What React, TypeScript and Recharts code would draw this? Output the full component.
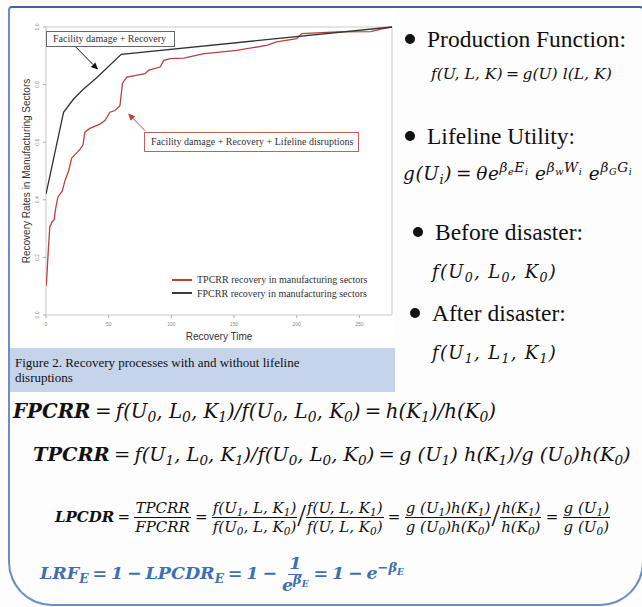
import React from 'react';
import {
  LineChart,
  Line,
  XAxis,
  YAxis,
  ReferenceArea,
  ReferenceLine,
  Legend,
} from 'recharts';

// FPCRR: facility damage + recovery (black)
const fpcrrTime = [0, 14, 22, 30, 40, 60, 276];
const fpcrrRate = [0.42, 0.704, 0.75, 0.785, 0.822, 0.905, 1.0];

// TPCRR: facility damage + recovery + lifeline disruptions (red)
const tpcrrTime = [
  0, 0.5, 1.5, 3, 5, 6.5, 7.5, 9.5, 12, 13, 15, 18, 20.5, 23, 27, 29.5, 31, 35,
  43, 47, 51, 55, 59, 61, 64.5, 79, 82, 91, 94, 99, 110, 125, 152, 176, 184,
  200, 204, 232, 259, 269, 276,
];
const tpcrrRate = [
  0.1, 0.12, 0.2, 0.305, 0.325, 0.33, 0.365, 0.41, 0.425, 0.43, 0.465, 0.5,
  0.545, 0.556, 0.575, 0.59, 0.635, 0.648, 0.663, 0.675, 0.704, 0.71, 0.727,
  0.805, 0.826, 0.838, 0.85, 0.861, 0.884, 0.89, 0.892, 0.907, 0.919, 0.936,
  0.948, 0.96, 0.977, 0.983, 0.984, 0.994, 1.0,
];

const xTicks = [0, 50, 100, 150, 200, 250];
const yTicks = [0, 0.2, 0.4, 0.6, 0.8, 1.0];

const legendItems = [
  { label: 'TPCRR recovery in manufacturing sectors', color: '#b8433d' },
  { label: 'FPCRR recovery in manufacturing sectors', color: '#3a3a3a' },
];

const fpcrrData = fpcrrTime.map((t, i) => ({ t, rate: fpcrrRate[i] }));
const tpcrrData = tpcrrTime.map((t, i) => ({ t, rate: tpcrrRate[i] }));

const SERIF = '"Liberation Serif", "Times New Roman", serif';
const MATH = '"DejaVu Serif", serif';
const SANS = '"Liberation Sans", Arial, sans-serif';

// ---------------------------------------------------------------------------
// Chart helpers
// ---------------------------------------------------------------------------

const YTick = (props: any) => {
  const { x, y, payload } = props;
  return (
    <text
      x={x}
      y={y}
      transform={`rotate(-90 ${x} ${y})`}
      textAnchor="middle"
      fontSize={5}
      fill="#888"
      fontFamily={SANS}
    >
      {Number(payload.value).toFixed(1)}
    </text>
  );
};

const Arrow = (color: string) => (props: any) => {
  const { x1, y1, x2, y2 } = props;
  const a = Math.atan2(y2 - y1, x2 - x1);
  const L = 7;
  const W = 3.2;
  const bx = x2 - L * Math.cos(a);
  const by = y2 - L * Math.sin(a);
  const p1 = `${bx - W * Math.sin(a)},${by + W * Math.cos(a)}`;
  const p2 = `${bx + W * Math.sin(a)},${by - W * Math.cos(a)}`;
  return (
    <g>
      <line x1={x1} y1={y1} x2={bx} y2={by} stroke={color} strokeWidth={1} />
      <polygon points={`${x2},${y2} ${p1} ${p2}`} fill={color} />
    </g>
  );
};

const LegendBox = () => (
  <div style={{ fontFamily: SERIF, fontSize: 10, color: '#333' }}>
    {legendItems.map(item => (
      <div
        key={item.label}
        style={{ display: 'flex', alignItems: 'center', height: 13.5 }}
      >
        <span
          style={{
            width: 20,
            height: 2,
            background: item.color,
            marginRight: 5,
          }}
        />
        {item.label}
      </div>
    ))}
  </div>
);

const RecoveryChart = () => (
  <LineChart
    width={385}
    height={335}
    data={fpcrrData}
    margin={{ top: 17, right: 3, bottom: 2, left: 26 }}
  >
    <ReferenceArea
      x1={0}
      x2={276}
      y1={0}
      y2={1}
      fill="none"
      stroke="#c9c9c9"
      strokeWidth={1}
    />
    <XAxis
      dataKey="t"
      type="number"
      domain={[0, 276]}
      ticks={xTicks}
      allowDataOverflow
      axisLine={false}
      tickSize={3}
      tickMargin={4}
      tickLine={{ stroke: '#aaa' }}
      tick={{ fontSize: 5, fill: '#888', fontFamily: SANS }}
      height={28}
      label={({ viewBox }: any) => (
        <text
          x={viewBox.x + viewBox.width / 2}
          y={viewBox.y + 25}
          textAnchor="middle"
          fontSize={10}
          fill="#333"
          fontFamily={SANS}
        >
          Recovery Time
        </text>
      )}
    />
    <YAxis
      type="number"
      domain={[0, 1]}
      ticks={yTicks}
      width={10}
      axisLine={false}
      tickSize={3}
      tickMargin={4}
      tickLine={{ stroke: '#aaa' }}
      tick={YTick}
      label={({ viewBox }: any) => {
        const lx = viewBox.x - 6;
        const ly = viewBox.y + viewBox.height / 2;
        return (
          <text
            x={lx}
            y={ly}
            transform={`rotate(-90 ${lx} ${ly})`}
            textAnchor="middle"
            fontSize={10}
            fill="#333"
            fontFamily={SANS}
          >
            Recovery Rates in Manufacturing Sectors
          </text>
        );
      }}
    />
    <Line
      data={tpcrrData}
      dataKey="rate"
      name="TPCRR"
      type="linear"
      stroke="#b8433d"
      strokeWidth={1.3}
      dot={false}
      isAnimationActive={false}
    />
    <Line
      data={fpcrrData}
      dataKey="rate"
      name="FPCRR"
      type="linear"
      stroke="#333"
      strokeWidth={1.3}
      dot={false}
      isAnimationActive={false}
    />
    <ReferenceLine
      segment={[
        { x: 23.2, y: 0.933 },
        { x: 41.5, y: 0.852 },
      ]}
      shape={Arrow('#111')}
    />
    <ReferenceLine
      segment={[
        { x: 79, y: 0.64 },
        { x: 65.5, y: 0.7 },
      ]}
      shape={Arrow('#b8433d')}
    />
    <Legend
      layout="vertical"
      align="center"
      verticalAlign="middle"
      content={LegendBox}
      wrapperStyle={{ left: 162, top: 263, width: 220 }}
    />
  </LineChart>
);

// ---------------------------------------------------------------------------
// Formula helpers
// ---------------------------------------------------------------------------

const Sub: React.FC<{ children: React.ReactNode }> = ({ children }) => (
  <sub style={{ fontSize: '0.7em', verticalAlign: '-0.3em', lineHeight: 0 }}>
    {children}
  </sub>
);

const Sup: React.FC<{ children: React.ReactNode }> = ({ children }) => (
  <sup style={{ fontSize: '0.74em', verticalAlign: '0.55em', lineHeight: 0 }}>
    {children}
  </sup>
);

const Up: React.FC<{ children: React.ReactNode }> = ({ children }) => (
  <span style={{ fontStyle: 'normal', margin: '0 0.22em' }}>{children}</span>
);

const Frac: React.FC<{ num: React.ReactNode; den: React.ReactNode }> = ({
  num,
  den,
}) => (
  <span
    style={{
      display: 'inline-flex',
      flexDirection: 'column',
      alignItems: 'center',
      verticalAlign: 'middle',
      margin: '0 1px',
    }}
  >
    <span
      style={{
        borderBottom: '1.6px solid currentColor',
        lineHeight: 1.2,
        padding: '0 1px',
      }}
    >
      {num}
    </span>
    <span style={{ lineHeight: 1.2 }}>{den}</span>
  </span>
);

const BigSlash = () => (
  <span
    style={{
      fontFamily: SERIF,
      fontStyle: 'normal',
      fontSize: '2.1em',
      fontWeight: 'normal',
      lineHeight: 0,
      verticalAlign: '-0.14em',
      margin: '0 -1px',
    }}
  >
    /
  </span>
);

const Bullet: React.FC<{ left: number; top: number; text: string }> = ({
  left,
  top,
  text,
}) => (
  <div
    style={{
      position: 'absolute',
      left,
      top,
      fontFamily: SERIF,
      fontSize: 23.5,
      color: '#111',
      whiteSpace: 'nowrap',
      lineHeight: '26px',
      display: 'flex',
      alignItems: 'center',
    }}
  >
    <span
      style={{
        width: 10,
        height: 10,
        borderRadius: 5,
        background: '#111',
        marginRight: 12,
      }}
    />
    {text}
  </div>
);

const mathLine = (left: number, top: number, size: number, extra = {}) =>
  ({
    position: 'absolute',
    left,
    top,
    fontFamily: MATH,
    fontStyle: 'italic',
    fontSize: size,
    color: '#111',
    whiteSpace: 'nowrap',
    lineHeight: `${Math.round(size * 1.3)}px`,
    ...extra,
  }) as React.CSSProperties;

const B: React.FC<{ children: React.ReactNode }> = ({ children }) => (
  <span style={{ fontWeight: 'bold' }}>{children}</span>
);

// ---------------------------------------------------------------------------
// Main component
// ---------------------------------------------------------------------------

const App: React.FC = () => (
  <div
    style={{
      position: 'absolute',
      left: 0,
      top: 0,
      width: 642,
      height: 607,
      overflow: 'hidden',
      background: '#fdfdfd',
    }}
  >
    {/* slide frame */}
    <div
      style={{
        position: 'absolute',
        left: 8,
        top: 6,
        width: 636,
        height: 600,
        boxSizing: 'border-box',
        border: '2px solid #6d8dc6',
        borderTopColor: '#3f67a8',
        borderRadius: '4px 4px 44px 44px',
      }}
    />

    {/* chart */}
    <div style={{ position: 'absolute', left: 10, top: 10, background: '#fff' }}>
      <RecoveryChart />
    </div>

    {/* annotations */}
    <div
      style={{
        position: 'absolute',
        left: 46,
        top: 31,
        width: 129,
        height: 16,
        boxSizing: 'border-box',
        border: '1px solid #666',
        background: '#fff',
        fontFamily: SERIF,
        fontSize: 10,
        color: '#333',
        lineHeight: '14px',
        paddingLeft: 6,
        whiteSpace: 'nowrap',
      }}
    >
      Facility damage + Recovery
    </div>
    <div
      style={{
        position: 'absolute',
        left: 144,
        top: 132,
        width: 215,
        height: 20,
        boxSizing: 'border-box',
        border: '1px solid #c0625c',
        background: '#fff',
        fontFamily: SERIF,
        fontSize: 10,
        color: '#333',
        lineHeight: '18px',
        paddingLeft: 6,
        whiteSpace: 'nowrap',
      }}
    >
      Facility damage + Recovery + Lifeline disruptions
    </div>

    {/* caption */}
    <div
      style={{
        position: 'absolute',
        left: 10,
        top: 348,
        width: 385,
        height: 44,
        background: '#c6d4ea',
        fontFamily: SERIF,
        fontSize: 13,
        color: '#111',
        lineHeight: '15px',
        padding: '7px 0 0 5px',
        boxSizing: 'border-box',
      }}
    >
      Figure 2. Recovery processes with and without lifeline
      <br />
      disruptions
    </div>

    {/* right column */}
    <Bullet left={405} top={26} text="Production Function:" />
    <div style={mathLine(431, 64, 15.6)}>
      f(U, L, K)<Up>=</Up>g(U) l(L, K)
    </div>
    <Bullet left={405} top={123} text="Lifeline Utility:" />
    <div style={mathLine(403, 162, 18.5, { letterSpacing: 0.6 })}>
      g(U<Sub>i</Sub>)<Up>=</Up>θe
      <Sup>
        β<Sub>e</Sub>E<Sub>i</Sub>
      </Sup>{' '}
      e
      <Sup>
        β<Sub>w</Sub>W<Sub>i</Sub>
      </Sup>{' '}
      e
      <Sup>
        β<Sub>G</Sub>G<Sub>i</Sub>
      </Sup>
    </div>
    <Bullet left={413} top={219} text="Before disaster:" />
    <div style={mathLine(432, 260, 18, { letterSpacing: 1.3 })}>
      f(U<Sub>0</Sub>, L<Sub>0</Sub>, K<Sub>0</Sub>)
    </div>
    <Bullet left={410} top={300} text="After disaster:" />
    <div style={mathLine(432, 341, 18, { letterSpacing: 1.3 })}>
      f(U<Sub>1</Sub>, L<Sub>1</Sub>, K<Sub>1</Sub>)
    </div>

    {/* bottom formulas */}
    <div style={mathLine(13, 398, 19.8)}>
      <B>FPCRR</B>
      <Up>=</Up>f(U<Sub>0</Sub>, L<Sub>0</Sub>, K<Sub>1</Sub>)/f(U<Sub>0</Sub>,
      L<Sub>0</Sub>, K<Sub>0</Sub>)<Up>=</Up>h(K<Sub>1</Sub>)/h(K<Sub>0</Sub>)
    </div>
    <div style={mathLine(33, 442, 19.4)}>
      <B>TPCRR</B>
      <Up>=</Up>f(U<Sub>1</Sub>, L<Sub>0</Sub>, K<Sub>1</Sub>)/f(U<Sub>0</Sub>,
      L<Sub>0</Sub>, K<Sub>0</Sub>)<Up>=</Up>g (U<Sub>1</Sub>) h(K<Sub>1</Sub>)/g
      (U<Sub>0</Sub>)h(K<Sub>0</Sub>)
    </div>
    <div style={mathLine(55, 499, 15)}>
      <B>LPCDR</B>
      <Up>=</Up>
      <Frac num="TPCRR" den="FPCRR" />
      <Up>=</Up>
      <Frac
        num={
          <>
            f(U<Sub>1</Sub>, L, K<Sub>1</Sub>)
          </>
        }
        den={
          <>
            f(U<Sub>0</Sub>, L, K<Sub>0</Sub>)
          </>
        }
      />
      <BigSlash />
      <Frac
        num={
          <>
            f(U, L, K<Sub>1</Sub>)
          </>
        }
        den={
          <>
            f(U, L, K<Sub>0</Sub>)
          </>
        }
      />
      <Up>=</Up>
      <Frac
        num={
          <>
            g (U<Sub>1</Sub>)h(K<Sub>1</Sub>)
          </>
        }
        den={
          <>
            g (U<Sub>0</Sub>)h(K<Sub>0</Sub>)
          </>
        }
      />
      <BigSlash />
      <Frac
        num={
          <>
            h(K<Sub>1</Sub>)
          </>
        }
        den={
          <>
            h(K<Sub>0</Sub>)
          </>
        }
      />
      <Up>=</Up>
      <Frac
        num={
          <>
            g (U<Sub>1</Sub>)
          </>
        }
        den={
          <>
            g (U<Sub>0</Sub>)
          </>
        }
      />
    </div>
    <div
      style={mathLine(40, 553, 17.5, { color: '#3d6fb6', fontWeight: 'bold' })}
    >
      LRF<Sub>E</Sub>
      <Up>=</Up>1<Up>−</Up>LPCDR<Sub>E</Sub>
      <Up>=</Up>1<Up>−</Up>
      <Frac
        num="1"
        den={
          <>
            e<Sup>β<Sub>E</Sub></Sup>
          </>
        }
      />
      <Up>=</Up>1<Up>−</Up>e
      <Sup>
        −β<Sub>E</Sub>
      </Sup>
    </div>
  </div>
);

export default App;
